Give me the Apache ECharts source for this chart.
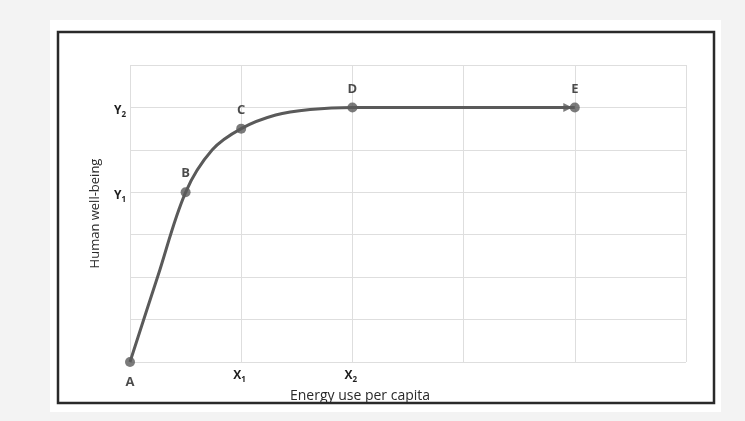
<!DOCTYPE html>
<html><head><meta charset="utf-8">
<script src="https://cdn.jsdelivr.net/npm/echarts@6/dist/echarts.min.js"></script>
<style>html,body{margin:0;padding:0;background:#f3f3f3;}#c{width:745px;height:421px;}</style>
</head><body><div id="c"></div>
<script>
// labelled points
const pointNames = ['A','B','C','D','E'];
const energy = [0, 0.5, 1, 2, 4];
const wellbeing = [0, 4, 5.5, 6, 6];
// curve path
const curveEnergy    = [0, 0.25, 0.5, 0.74, 1, 1.31, 1.62, 2, 4];
const curveWellbeing = [0, 2.02, 4, 5, 5.5, 5.82, 5.95, 6, 6];
const xTickLabels = {1:'{m|X}{s|1}', 2:'{m|X}{s|2}'};
const yTickLabels = {4:'{m|Y}{s|1}', 6:'{m|Y}{s|2}'};
const xAxisTitle = 'Energy use per capita';
const yAxisTitle = 'Human well-being';

const FONT = '"Open Sans", "Liberation Sans", sans-serif';
const chart = echarts.init(document.getElementById('c'));
const pointData = energy.map((x,i)=>({value:[x, wellbeing[i]], name:pointNames[i],
  label:{position: i===0 ? 'bottom' : 'top', distance: i===0 ? 9 : 7}}));
const rich = {m:{fontFamily:FONT,fontWeight:'bold',fontSize:12,color:'#1e1e1e'},
              s:{fontFamily:FONT,fontWeight:'bold',fontSize:8,color:'#1e1e1e',padding:[8,0,0,0]}};
chart.setOption({
  backgroundColor:'#f3f3f3',
  animation:false,
  graphic:[
    {type:'rect',z:-10,shape:{x:50,y:20,width:671,height:392},style:{fill:'#ffffff'}},
    {type:'rect',z:-9,shape:{x:58,y:32,width:656,height:371},style:{fill:'#ffffff',stroke:'#2a2a2a',lineWidth:2.5}}
  ],
  grid:{left:130,top:65,width:556,height:297},
  xAxis:{type:'value',min:0,max:5,interval:1,
    axisLine:{show:false},axisTick:{show:false},
    splitLine:{show:true,lineStyle:{color:'#dedede',width:1}},
    axisLabel:{margin:6,formatter:v=>xTickLabels[v]||'',rich:rich,align:'left',padding:[0,0,0,-8]},
    name:xAxisTitle,nameLocation:'middle',nameGap:20,
    nameTextStyle:{fontFamily:FONT,fontSize:14,color:'#2a2a2a',padding:[0,96,0,0]}},
  yAxis:{type:'value',min:0,max:7,interval:1,
    axisLine:{show:false},axisTick:{show:false},
    splitLine:{show:true,lineStyle:{color:'#dedede',width:1}},
    axisLabel:{margin:4,formatter:v=>yTickLabels[v]||'',rich:rich,padding:[6,0,0,0]},
    name:yAxisTitle,nameLocation:'middle',nameGap:28,
    nameTextStyle:{fontFamily:FONT,fontSize:13,color:'#2a2a2a'}},
  series:[
    {type:'line',data:curveEnergy.map((x,i)=>[x,curveWellbeing[i]]),smooth:0.35,
     showSymbol:false,symbol:'none',
     lineStyle:{color:'#5a5a5a',width:3}},
    {type:'scatter',data:pointData,symbol:'circle',symbolSize:10,
     itemStyle:{color:'#5a5a5a'},z:4,
     label:{show:true,formatter:p=>p.name,fontFamily:FONT,fontWeight:'bold',fontSize:13,color:'#1e1e1e'}},
    {type:'scatter',data:[[energy[4],wellbeing[4]]],symbol:'triangle',symbolSize:[9,9],
     symbolRotate:-90,symbolOffset:[-7,0],itemStyle:{color:'#5a5a5a'},z:3}
  ]
});
</script></body></html>
